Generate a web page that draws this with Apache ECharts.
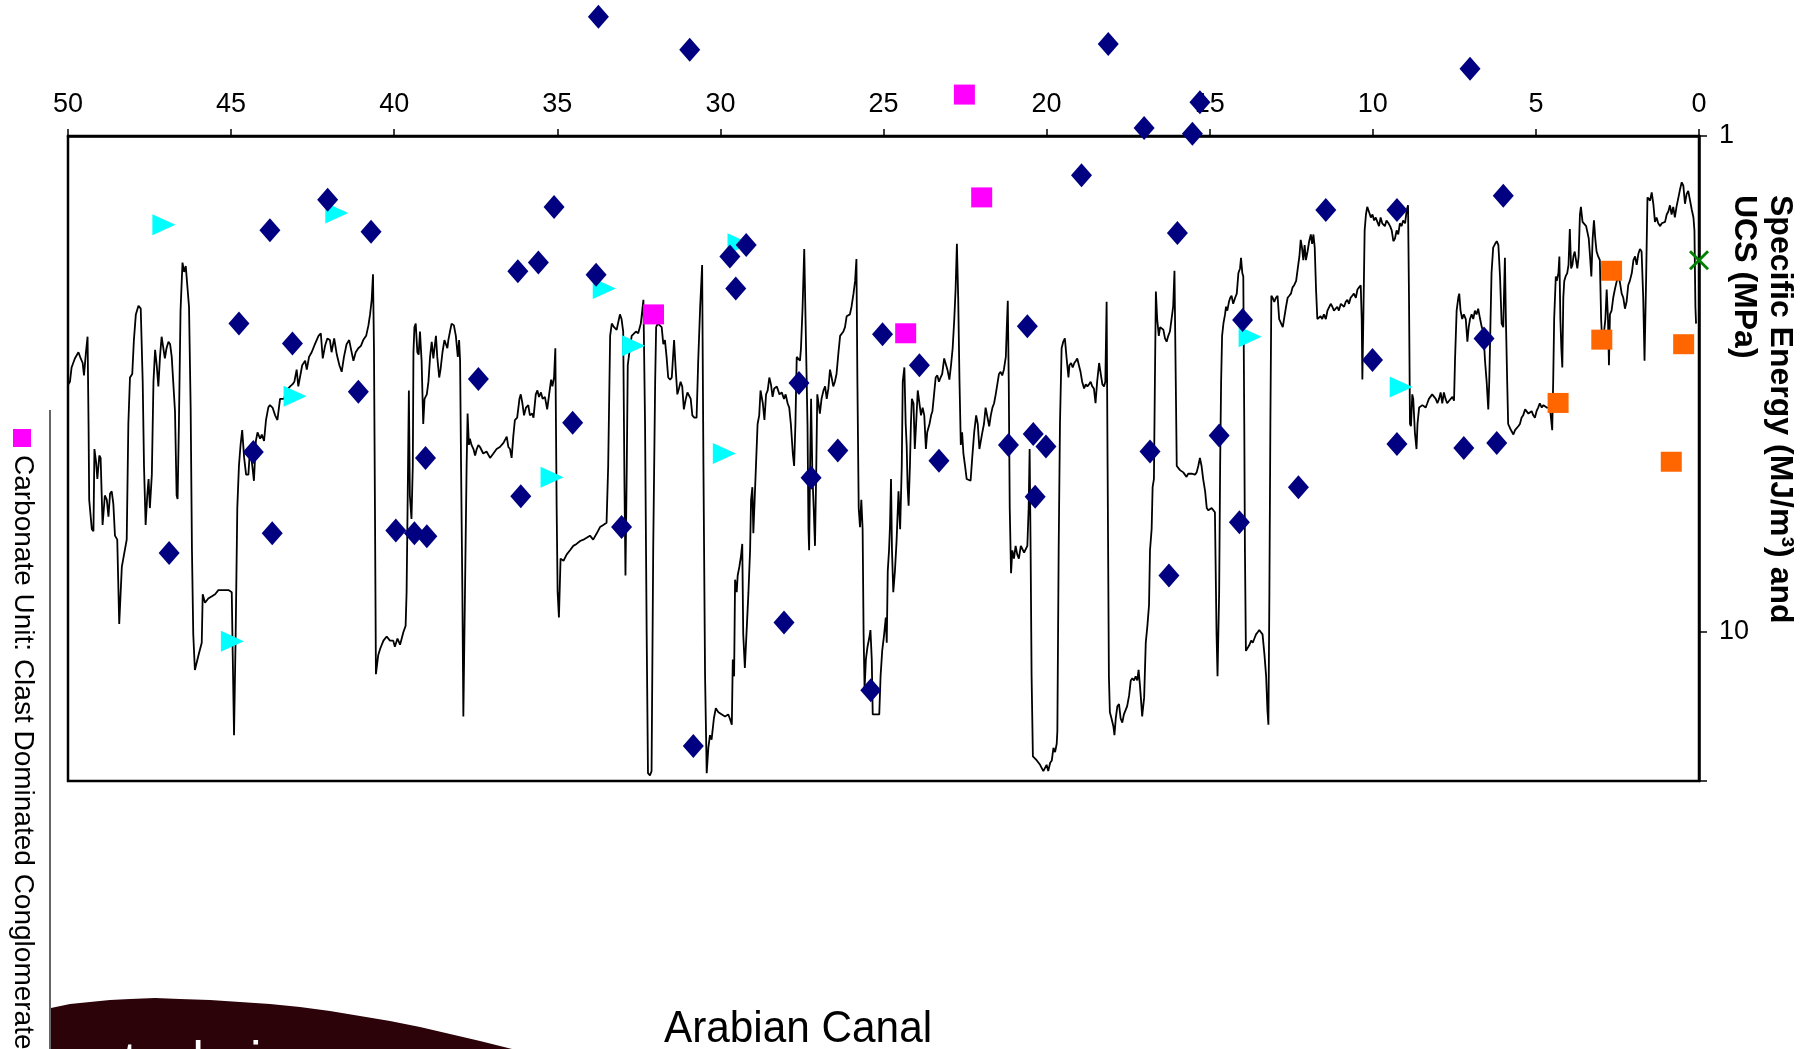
<!DOCTYPE html>
<html>
<head>
<meta charset="utf-8">
<script src="https://cdn.jsdelivr.net/npm/echarts@6/dist/echarts.min.js"></script>
<style>
  html, body { margin: 0; padding: 0; background: #ffffff; }
  #chart { width: 1812px; height: 1049px; }
</style>
</head>
<body>
<div id="chart"></div>
<script>
// Chainage (top axis) ticks and specific-energy axis labels
const chainageTicks = [50, 45, 40, 35, 30, 25, 20, 15, 10, 5, 0];
const energyLabels = [1, 10];

// Continuous specific energy log: [chainage, MJ/m3]
const specificEnergy = [
[50.02,3.19],[49.94,3.13],[49.89,2.93],[49.79,2.81],[49.68,2.73],[49.61,2.81],[49.55,2.87],[49.51,3.04],[49.45,2.73],[49.40,2.54],[49.37,3.81],[49.35,5.42],[49.27,6.21],[49.22,6.27],[49.19,4.28],[49.14,4.54],[49.10,4.92],[49.04,4.41],[49.00,4.46],[48.94,6.09],[48.87,5.31],[48.81,5.42],[48.76,5.86],[48.71,5.26],[48.66,5.21],[48.61,5.52],[48.56,6.40],[48.49,6.52],[48.43,9.64],[48.35,7.40],[48.20,6.52],[48.15,3.81],[48.10,3.07],[48.03,3.02],[47.98,2.58],[47.92,2.29],[47.84,2.20],[47.77,2.23],[47.71,3.13],[47.67,4.63],[47.62,6.09],[47.57,5.31],[47.53,4.92],[47.49,5.63],[47.43,4.82],[47.38,3.13],[47.33,2.70],[47.28,2.90],[47.23,3.20],[47.18,2.79],[47.13,2.54],[47.08,2.56],[47.03,2.81],[46.98,2.68],[46.92,2.60],[46.87,2.63],[46.82,2.79],[46.72,3.59],[46.67,5.31],[46.64,5.40],[46.60,3.81],[46.55,2.25],[46.49,1.80],[46.44,1.88],[46.39,1.83],[46.33,1.82],[46.29,2.21],[46.24,3.53],[46.20,6.85],[46.16,10.12],[46.11,11.94],[46.00,11.15],[45.90,10.52],[45.87,8.40],[45.80,8.74],[45.70,8.57],[45.60,8.49],[45.49,8.40],[45.39,8.24],[45.24,8.24],[45.08,8.24],[44.98,8.32],[44.95,11.15],[44.91,16.17],[44.86,10.12],[44.81,5.63],[44.76,4.63],[44.71,4.20],[44.66,3.92],[44.60,4.46],[44.54,4.82],[44.47,4.82],[44.42,4.28],[44.35,4.63],[44.30,4.96],[44.24,4.12],[44.19,3.96],[44.11,4.08],[44.06,4.00],[43.99,4.12],[43.93,3.74],[43.86,3.53],[43.81,3.49],[43.73,3.53],[43.65,3.66],[43.58,3.74],[43.50,3.39],[43.45,3.36],[43.38,3.39],[43.30,3.26],[43.19,3.20],[43.12,3.17],[43.06,3.13],[42.99,2.96],[42.94,3.20],[42.89,3.07],[42.82,2.90],[42.73,2.84],[42.68,2.96],[42.61,2.79],[42.53,2.73],[42.43,2.63],[42.32,2.53],[42.25,2.50],[42.19,2.81],[42.12,2.65],[42.05,2.56],[41.97,2.58],[41.92,2.73],[41.84,2.56],[41.76,2.76],[41.68,2.90],[41.61,2.99],[41.54,2.79],[41.46,2.63],[41.38,2.58],[41.32,2.70],[41.25,2.84],[41.18,2.73],[41.10,2.68],[41.02,2.65],[40.95,2.58],[40.86,2.53],[40.79,2.41],[40.74,2.29],[40.69,2.14],[40.65,1.90],[40.62,2.68],[40.59,5.63],[40.56,12.18],[40.49,11.15],[40.43,10.82],[40.33,10.42],[40.23,10.22],[40.13,10.42],
[40.03,10.42],[39.98,10.72],[39.90,10.32],[39.82,10.62],[39.72,10.02],[39.65,9.73],[39.62,8.32],[39.59,5.63],[39.55,3.26],[39.52,5.31],[39.47,5.92],[39.43,4.63],[39.41,2.73],[39.38,2.43],[39.34,2.39],[39.29,2.73],[39.25,2.76],[39.21,2.48],[39.16,2.84],[39.11,3.81],[39.07,3.39],[39.00,3.32],[38.95,3.13],[38.90,2.79],[38.85,2.60],[38.80,2.81],[38.75,2.63],[38.72,2.53],[38.68,2.79],[38.62,3.07],[38.58,2.96],[38.52,2.73],[38.46,2.58],[38.41,2.58],[38.37,2.68],[38.34,2.58],[38.29,2.48],[38.24,2.39],[38.17,2.41],[38.11,2.53],[38.05,2.79],[38.01,2.58],[37.98,2.84],[37.95,4.63],[37.91,8.32],[37.88,14.82],[37.83,8.32],[37.78,4.63],[37.75,3.63],[37.71,4.20],[37.68,4.08],[37.63,4.20],[37.57,4.28],[37.52,4.41],[37.47,4.28],[37.42,4.20],[37.37,4.24],[37.27,4.37],[37.17,4.33],[37.06,4.46],[36.96,4.37],[36.86,4.28],[36.76,4.24],[36.65,4.16],[36.55,4.04],[36.50,4.24],[36.45,4.28],[36.40,4.46],[36.35,4.04],[36.30,3.74],[36.23,3.70],[36.16,3.39],[36.12,3.32],[36.07,3.46],[36.02,3.66],[35.96,3.53],[35.89,3.49],[35.84,3.66],[35.77,3.63],[35.73,3.70],[35.66,3.32],[35.61,3.26],[35.56,3.36],[35.50,3.29],[35.45,3.39],[35.38,3.36],[35.31,3.56],[35.25,3.32],[35.19,3.10],[35.15,3.20],[35.10,3.07],[35.06,2.68],[35.02,5.63],[34.99,8.32],[34.95,9.36],[34.90,7.12],[34.81,7.19],[34.71,6.98],[34.61,6.85],[34.51,6.71],[34.41,6.65],[34.30,6.56],[34.20,6.52],[34.10,6.46],[34.00,6.40],[33.90,6.52],[33.79,6.33],[33.69,6.15],[33.59,6.09],[33.49,6.03],[33.44,4.63],[33.38,2.53],[33.33,2.39],[33.26,2.43],[33.18,2.46],[33.08,2.29],[33.03,2.34],[32.98,2.48],[32.94,5.11],[32.91,7.70],[32.87,4.63],[32.84,2.90],[32.79,2.73],[32.72,2.53],[32.67,2.53],[32.59,2.48],[32.52,2.50],[32.44,2.39],[32.36,2.14],[32.31,3.81],[32.26,10.12],[32.22,19.29],[32.16,19.48],[32.11,19.10],[32.06,6.85],[32.00,3.13],[31.97,2.43],[31.92,2.39],[31.87,2.41],[31.80,2.43],[31.75,2.63],[31.70,2.58],[31.65,2.79],[31.60,3.07],[31.54,3.10],[31.49,3.07],[31.42,2.58],[31.37,2.96],[31.32,3.32],[31.27,3.23],[31.22,3.13],[31.17,3.20],[31.12,3.56],[31.06,3.39],[31.01,3.29],[30.96,3.26],[30.91,3.39],[30.86,3.66],[30.80,3.70],[30.73,3.70],[30.68,2.84],[30.62,2.21],[30.56,1.82],[30.52,4.63],[30.47,12.30],[30.42,19.29],[30.37,17.15],[30.32,16.17],[30.27,16.50],[30.20,14.96],[30.14,14.26],[30.06,14.54],
[29.86,14.82],[29.76,14.68],[29.71,14.96],[29.65,15.40],[29.62,11.37],[29.58,12.30],[29.55,7.85],[29.50,8.32],[29.47,7.70],[29.42,7.40],[29.37,7.05],[29.33,6.65],[29.30,10.12],[29.25,11.83],[29.19,11.83],[29.14,8.32],[29.09,6.85],[29.06,5.42],[29.02,5.11],[28.99,6.33],[28.95,5.42],[28.91,4.63],[28.86,3.81],[28.81,3.66],[28.77,3.26],[28.70,3.46],[28.65,3.74],[28.60,3.32],[28.55,3.26],[28.50,3.07],[28.45,3.17],[28.40,3.36],[28.35,3.23],[28.27,3.20],[28.19,3.32],[28.12,3.29],[28.05,3.39],[28.00,3.32],[27.94,3.46],[27.89,3.53],[27.84,3.81],[27.78,4.37],[27.74,4.63],[27.70,3.81],[27.66,2.79],[27.61,2.81],[27.56,2.84],[27.53,2.68],[27.48,2.21],[27.43,1.69],[27.38,1.68],[27.33,3.81],[27.30,6.21],[27.28,6.85],[27.25,4.63],[27.22,3.39],[27.18,4.82],[27.14,5.63],[27.10,6.71],[27.06,4.63],[27.03,3.32],[26.98,3.29],[26.95,3.63],[26.90,3.39],[26.84,3.26],[26.79,3.20],[26.74,3.39],[26.69,3.23],[26.64,2.96],[26.59,3.07],[26.54,3.20],[26.49,3.13],[26.44,3.02],[26.38,2.73],[26.33,2.53],[26.28,2.53],[26.23,2.48],[26.18,2.43],[26.13,2.31],[26.08,2.29],[26.03,2.29],[25.98,2.21],[25.92,2.08],[25.87,1.96],[25.83,1.77],[25.80,3.13],[25.76,5.63],[25.72,6.15],[25.68,5.42],[25.64,6.21],[25.61,10.12],[25.58,13.05],[25.54,11.37],[25.49,10.72],[25.44,10.32],[25.40,9.92],[25.36,11.37],[25.33,14.68],[25.21,14.68],[25.13,14.68],[25.09,12.30],[25.04,10.93],[24.98,10.12],[24.93,9.36],[24.90,10.52],[24.87,7.55],[24.83,6.85],[24.80,6.09],[24.77,4.92],[24.74,6.85],[24.70,8.32],[24.65,7.55],[24.60,6.58],[24.54,5.21],[24.49,6.21],[24.44,4.63],[24.41,3.13],[24.36,2.93],[24.32,3.81],[24.29,4.20],[24.26,5.11],[24.23,5.57],[24.19,4.63],[24.16,3.81],[24.13,3.39],[24.08,3.46],[24.04,4.28],[24.00,3.81],[23.95,3.26],[23.90,3.23],[23.85,3.66],[23.80,3.53],[23.75,3.66],[23.70,4.28],[23.66,3.96],[23.59,3.81],[23.54,3.66],[23.50,3.59],[23.45,3.32],[23.40,3.07],[23.35,3.04],[23.30,3.13],[23.25,3.07],[23.20,3.02],[23.14,2.81],[23.09,2.79],[23.04,2.96],[22.98,3.10],[22.93,2.90],[22.88,2.68],[22.83,2.34],[22.79,2.04],[22.75,1.65],[22.71,2.12],[22.67,3.13],[22.63,4.20],[22.59,3.96],[22.55,4.37],[22.50,4.63],[22.45,4.92],[22.40,4.96],[22.33,4.96],[22.28,4.46],[22.22,3.96],[22.16,3.66],[22.11,3.81],[22.06,4.28],[22.01,4.28],[21.97,3.96],[21.92,3.81],[21.87,3.53],[21.82,3.56],[21.76,3.85],[21.71,3.66],[21.66,3.53],[21.61,3.46],[21.56,3.32],[21.51,3.29],[21.46,3.02],[21.41,2.99],[21.36,3.04],[21.31,2.96],[21.25,2.79],[21.22,2.43],[21.19,2.15],[21.16,3.13],[21.13,5.63],[21.09,7.62],[21.05,6.85],[21.00,7.12],[20.95,6.71],[20.90,6.98],[20.85,7.12],[20.79,6.71],[20.74,6.65],[20.69,6.92],[20.63,6.98],[20.59,6.71],[20.55,5.63],[20.52,4.28],[20.49,6.85],[20.46,12.30],[20.42,17.84],[20.30,18.18],[20.20,18.55],[20.10,19.10],[20.00,18.55],[19.95,19.10],[19.89,18.37],[19.84,18.18],[19.79,17.15],[19.74,17.49],[19.69,16.82],
[19.67,15.86],[19.63,6.85],[19.59,3.81],[19.54,2.68],[19.49,2.60],[19.44,2.56],[19.39,2.79],[19.33,3.07],[19.30,2.90],[19.25,2.87],[19.20,2.93],[19.15,2.87],[19.10,2.84],[19.06,2.81],[19.01,2.90],[18.96,2.99],[18.91,3.13],[18.85,3.23],[18.80,3.17],[18.75,3.20],[18.70,3.17],[18.65,3.13],[18.60,3.20],[18.55,3.23],[18.50,3.46],[18.45,3.13],[18.39,2.87],[18.34,3.02],[18.29,3.17],[18.24,3.20],[18.20,3.13],[18.16,2.16],[18.13,4.63],[18.09,12.30],[18.06,14.54],[18.01,14.96],[17.95,15.55],[17.92,16.17],[17.88,14.96],[17.83,14.13],[17.78,13.99],[17.73,14.96],[17.68,15.25],[17.63,14.68],[17.58,14.68],[17.53,14.13],[17.47,13.44],[17.42,12.54],[17.37,12.42],[17.32,12.54],[17.27,12.30],[17.22,12.54],[17.18,11.94],[17.14,12.79],[17.11,13.58],[17.07,14.82],[17.01,13.58],[16.96,10.52],[16.91,9.73],[16.86,8.83],[16.83,6.85],[16.78,6.21],[16.75,5.11],[16.71,4.92],[16.68,3.13],[16.65,2.06],[16.61,2.34],[16.56,2.53],[16.52,2.43],[16.47,2.41],[16.42,2.46],[16.37,2.56],[16.32,2.60],[16.27,2.53],[16.22,2.48],[16.17,2.50],[16.12,2.21],[16.08,1.87],[16.04,3.13],[16.01,4.63],[15.96,4.63],[15.91,4.72],[15.86,4.70],[15.81,4.77],[15.76,4.82],[15.71,4.87],[15.66,4.80],[15.60,4.82],[15.55,4.80],[15.50,4.77],[15.45,4.82],[15.40,4.77],[15.35,4.63],[15.30,4.46],[15.25,4.63],[15.20,4.92],[15.14,5.21],[15.09,5.63],[15.04,5.69],[14.94,5.63],[14.84,5.74],[14.79,10.12],[14.76,12.30],[14.71,8.32],[14.68,4.63],[14.65,3.13],[14.62,2.53],[14.58,2.39],[14.53,2.29],[14.50,2.21],[14.46,2.25],[14.41,2.16],[14.37,2.12],[14.33,2.10],[14.28,2.18],[14.22,2.12],[14.17,2.08],[14.12,1.89],[14.07,1.85],[14.04,1.76],[14.00,1.89],[13.97,1.92],[13.94,3.81],[13.92,6.85],[13.89,10.93],[13.84,10.93],[13.78,10.62],[13.73,10.42],[13.68,10.52],[13.63,10.32],[13.58,10.12],[13.53,10.02],[13.48,9.92],[13.43,10.02],[13.38,10.12],[13.32,11.15],[13.27,12.30],[13.23,14.40],[13.20,15.40],[13.17,8.32],[13.14,3.81],[13.11,2.10],[13.07,2.12],[13.02,2.16],[12.97,2.12],[12.92,2.10],[12.87,2.34],[12.81,2.36],[12.76,2.43],[12.71,2.41],[12.66,2.21],[12.61,2.12],[12.56,2.10],[12.51,2.08],[12.46,2.02],[12.41,2.00],[12.35,1.96],[12.30,1.85],[12.25,1.75],[12.21,1.62],[12.17,1.68],[12.13,1.78],[12.09,1.66],[12.05,1.78],[12.00,1.71],[11.95,1.63],[11.90,1.58],[11.86,1.65],[11.82,1.58],[11.78,1.68],[11.74,2.04],[11.70,2.34],[11.65,2.34],[11.60,2.31],[11.55,2.34],[11.50,2.29],[11.44,2.34],[11.39,2.25],[11.34,2.23],[11.29,2.18],[11.24,2.21],[11.19,2.25],[11.14,2.23],[11.09,2.21],[11.04,2.25],[10.98,2.18],[10.93,2.16],[10.88,2.21],[10.83,2.16],[10.78,2.14],[10.73,2.18],[10.68,2.12],[10.63,2.10],[10.58,2.08],[10.52,2.12],[10.47,2.04],[10.42,2.02],[10.37,2.00],[10.34,2.34],[10.32,3.10],[10.29,2.34],[10.25,1.55],[10.21,1.44],[10.17,1.39],[10.12,1.42],[10.06,1.46],[10.01,1.44],[9.96,1.48],[9.91,1.46],[9.86,1.49],[9.81,1.52],[9.76,1.46],[9.71,1.50],[9.66,1.49],
[9.63,1.52],[9.58,1.48],[9.52,1.50],[9.47,1.52],[9.42,1.55],[9.37,1.63],[9.32,1.61],[9.27,1.55],[9.22,1.58],[9.17,1.50],[9.12,1.52],[9.07,1.48],[9.01,1.50],[8.96,1.41],[8.92,1.38],[8.89,2.12],[8.86,3.81],[8.83,3.85],[8.79,3.32],[8.76,3.39],[8.71,3.96],[8.66,4.28],[8.63,3.81],[8.58,3.53],[8.53,3.56],[8.48,3.49],[8.43,3.46],[8.38,3.53],[8.33,3.46],[8.28,3.39],[8.23,3.36],[8.18,3.32],[8.12,3.31],[8.07,3.39],[8.02,3.46],[7.97,3.39],[7.92,3.29],[7.87,3.46],[7.82,3.29],[7.77,3.39],[7.72,3.46],[7.66,3.42],[7.61,3.39],[7.56,3.36],[7.51,3.42],[7.48,2.84],[7.43,2.25],[7.38,2.12],[7.35,2.08],[7.31,2.25],[7.26,2.34],[7.21,2.29],[7.15,2.34],[7.10,2.60],[7.06,2.43],[7.02,2.34],[6.97,2.29],[6.92,2.34],[6.87,2.25],[6.82,2.29],[6.77,2.23],[6.71,2.34],[6.66,2.43],[6.61,2.48],[6.56,2.84],[6.51,3.13],[6.46,3.56],[6.43,3.13],[6.39,2.34],[6.36,1.89],[6.31,1.68],[6.25,1.65],[6.20,1.63],[6.15,1.66],[6.10,1.92],[6.05,2.39],[6.00,2.43],[5.98,2.12],[5.95,1.76],[5.92,2.34],[5.88,3.13],[5.85,3.81],[5.79,3.89],[5.74,3.92],[5.69,4.00],[5.64,3.92],[5.59,3.89],[5.54,3.85],[5.49,3.81],[5.44,3.70],[5.39,3.66],[5.33,3.56],[5.28,3.53],[5.23,3.63],[5.18,3.66],[5.13,3.59],[5.08,3.66],[5.03,3.70],[4.98,3.59],[4.93,3.53],[4.88,3.46],[4.82,3.53],[4.77,3.49],[4.67,3.53],[4.57,3.53],[4.53,3.53],[4.50,3.92],[4.47,3.13],[4.44,2.34],[4.39,1.92],[4.36,1.96],[4.31,1.89],[4.28,1.75],[4.25,2.34],[4.22,2.68],[4.19,2.93],[4.16,2.12],[4.13,1.96],[4.09,1.92],[4.04,1.89],[4.00,1.82],[3.96,1.54],[3.92,1.85],[3.88,1.82],[3.85,1.75],[3.81,1.71],[3.77,1.78],[3.73,1.85],[3.69,1.75],[3.65,1.44],[3.62,1.39],[3.57,1.49],[3.52,1.48],[3.46,1.52],[3.42,1.52],[3.38,1.61],[3.34,1.75],[3.30,1.92],[3.26,1.61],[3.22,1.48],[3.18,1.61],[3.14,1.71],[3.09,1.75],[3.04,1.78],[3.00,2.34],[2.96,2.68],[2.91,2.48],[2.87,2.34],[2.83,2.04],[2.79,2.34],[2.76,2.90],[2.73,2.29],[2.68,2.25],[2.63,2.12],[2.58,2.04],[2.52,1.96],[2.47,1.92],[2.42,1.98],[2.37,2.08],[2.32,2.12],[2.27,2.23],[2.22,2.16],[2.17,2.00],[2.12,1.96],[2.06,1.89],[2.01,1.78],[1.96,1.75],[1.91,1.82],[1.86,1.73],[1.81,1.69],[1.76,1.71],[1.71,2.12],[1.67,2.84],[1.62,1.92],[1.58,1.33],[1.54,1.34],[1.50,1.35],[1.45,1.30],[1.40,1.37],[1.35,1.49],[1.30,1.46],[1.25,1.50],[1.19,1.52],[1.14,1.50],[1.09,1.50],[1.04,1.49],[0.99,1.44],[0.94,1.42],[0.89,1.38],[0.84,1.44],[0.79,1.39],[0.74,1.46],[0.69,1.39],[0.63,1.33],[0.58,1.28],[0.53,1.24],[0.48,1.26],[0.43,1.37],[0.38,1.31],[0.33,1.29],[0.28,1.30],[0.22,1.41],[0.17,1.46],[0.14,1.55],[0.11,2.21],[0.09,2.39]
];

// UCS test results (MPa), navy diamonds
const ucsDiamond = [
[33.74,0.575],[30.94,0.67],[18.11,0.652],[7.02,0.732],[17.01,0.963],[15.53,0.99],[15.30,0.855],
[42.04,1.345],[43.81,1.55],[40.71,1.56],[44.76,2.39],[43.12,2.62],[41.10,3.28],[44.32,4.34],[43.74,6.33],[46.90,6.94],[39.95,6.25],
[35.10,1.39],[36.21,1.875],[35.58,1.80],[33.81,1.905],[37.42,3.09],[34.53,3.79],[39.04,4.46],[36.12,5.33],[39.38,6.33],[39.00,6.42],[33.03,6.15],[30.83,17.0],
[29.71,1.75],[29.21,1.66],[29.53,2.03],[27.59,3.15],[27.22,4.89],[26.40,4.31],[28.05,9.58],[25.03,2.51],[23.90,2.90],[23.30,4.52],[25.39,13.12],[20.59,2.42],[21.17,4.20],[20.41,3.99],[20.02,4.23],[20.35,5.34],
[18.93,1.20],[15.99,1.57],[13.99,2.35],[14.71,4.02],[16.83,4.33],[14.09,6.01],[16.25,7.70],[11.44,1.41],[12.28,5.11],[10.01,2.83],
[9.26,1.41],[6.00,1.32],[6.59,2.56],[9.26,4.18],[7.21,4.26],[6.20,4.16]
];

// UCS results, cyan triangles
const ucsTriangle = [
[47.06,1.51],[41.76,1.43],[43.04,3.35],[44.96,10.45],[33.56,2.03],[32.66,2.65],[35.16,4.88],[29.88,4.37],[29.43,1.65],[13.76,2.54],[9.13,3.21]
];

// Carbonate Unit: Clast Dominated Conglomerate
const carbonateClast = [[32.05,2.29],[24.32,2.50],[21.99,1.33],[22.52,0.825]];

// UCS results, orange squares
const ucsOrange = [[2.68,1.87],[2.98,2.575],[4.32,3.455],[0.47,2.63],[0.85,4.54]];

// Single result at the start of the drive
const ucsCross = [[0.0,1.78]];

const FONT = 'Liberation Sans, Arial, sans-serif';
const chart = echarts.init(document.getElementById('chart'), null, { renderer: 'canvas' });

const crossPath = 'path://M1,0L5,4L9,0L10,1L6,5L10,9L9,10L5,6L1,10L0,9L4,5L0,1Z';

// outline of the logo swoosh in the lower-left corner
const swooshOutline = [
  [51, 1049], [51, 1008], [70, 1004], [90, 1002], [110, 1000], [130, 999], [155, 998],
  [180, 999], [210, 1000], [240, 1002], [270, 1004], [300, 1007], [330, 1011],
  [360, 1016], [390, 1021], [420, 1027], [450, 1034], [480, 1041], [512, 1049]
];

chart.setOption({
  animation: false,
  backgroundColor: '#ffffff',
  textStyle: { fontFamily: FONT },
  grid: {
    left: 68, right: 113, top: 136, bottom: 268,
    show: true, borderColor: '#000000', borderWidth: 2.5, backgroundColor: 'transparent'
  },
  xAxis: {
    type: 'value', position: 'top', inverse: true,
    min: 0, max: 50, interval: 5,
    axisLine: { show: true, onZero: false, lineStyle: { color: '#000000', width: 2.5 } },
    axisTick: { show: true, length: 7, lineStyle: { color: '#000000', width: 1.5 } },
    axisLabel: {
      color: '#000000', fontSize: 27, fontFamily: FONT, margin: 18,
      formatter: v => chainageTicks.includes(v) ? String(v) : ''
    },
    splitLine: { show: false }
  },
  yAxis: {
    type: 'log', logBase: 10, position: 'right', inverse: true,
    min: 1, max: 20,
    axisLine: { show: true, lineStyle: { color: '#000000', width: 2.5 } },
    axisTick: { show: true, length: 8, lineStyle: { color: '#000000', width: 1.5 } },
    axisLabel: {
      color: '#000000', fontSize: 27, fontFamily: FONT, margin: 20,
      formatter: v => energyLabels.some(t => Math.abs(v - t) < 1e-6) ? String(Math.round(v)) : ''
    },
    splitLine: { show: false },
    minorTick: { show: false }
  },
  series: [
    {
      name: 'Specific Energy', type: 'line', data: specificEnergy,
      showSymbol: false, symbol: 'none', clip: true,
      lineStyle: { color: '#000000', width: 1.8 }, z: 2
    },
    {
      name: 'UCS (triangle)', type: 'scatter', data: ucsTriangle, clip: false,
      symbol: 'triangle', symbolRotate: -90, symbolSize: [21, 23],
      itemStyle: { color: '#00FFFF', opacity: 1 }, z: 3
    },
    {
      name: 'UCS', type: 'scatter', data: ucsDiamond, clip: false,
      symbol: 'diamond', symbolSize: [21, 24],
      itemStyle: { color: '#000080', opacity: 1 }, z: 4
    },
    {
      name: 'Carbonate Unit: Clast Dominated Conglomerate', type: 'scatter', data: carbonateClast, clip: false,
      symbol: 'rect', symbolSize: [21, 20],
      itemStyle: { color: '#FF00FF', opacity: 1 }, z: 5
    },
    {
      name: 'UCS (square)', type: 'scatter', data: ucsOrange, clip: false,
      symbol: 'rect', symbolSize: [21, 20],
      itemStyle: { color: '#FF6600', opacity: 1 }, z: 5
    },
    {
      name: 'UCS (cross)', type: 'scatter', data: ucsCross, clip: false,
      symbol: crossPath, symbolSize: [20, 20],
      itemStyle: { color: '#008000', opacity: 1 }, z: 6
    }
  ],
  graphic: {
    elements: [
      {
        // right-hand axis title, reading top to bottom
        type: 'text', x: 1798, y: 195, rotation: -Math.PI / 2,
        style: {
          text: 'Specific Energy (MJ/m³) and\nUCS (MPa)',
          fill: '#000000', font: 'bold 32px ' + FONT,
          textAlign: 'left', textVerticalAlign: 'top', lineHeight: 36
        }
      },
      {
        // legend box edge
        type: 'line', shape: { x1: 50, y1: 410, x2: 50, y2: 1049 },
        style: { stroke: '#000000', lineWidth: 1.2 }
      },
      {
        type: 'rect', shape: { x: 13, y: 429, width: 18, height: 18 },
        style: { fill: '#FF00FF' }
      },
      {
        type: 'text', x: 23, y: 455, rotation: -Math.PI / 2,
        style: {
          text: 'Carbonate Unit: Clast Dominated Conglomerate',
          fill: '#000000', font: '28px ' + FONT,
          textAlign: 'left', textVerticalAlign: 'middle'
        }
      },
      {
        type: 'polygon', shape: { points: swooshOutline },
        style: { fill: '#2b0309' }
      },
      {
        type: 'text', x: 36, y: 1064,
        style: {
          text: 'geotechnics', fill: '#ffffff', font: '52px ' + FONT,
          textAlign: 'left', textVerticalAlign: 'middle'
        }
      },
      {
        type: 'text', x: 664, y: 1030, scaleX: 0.94,
        style: {
          text: 'Arabian Canal', fill: '#000000', font: '45px ' + FONT,
          textAlign: 'left', textVerticalAlign: 'middle'
        }
      }
    ]
  }
});
</script>
</body>
</html>
